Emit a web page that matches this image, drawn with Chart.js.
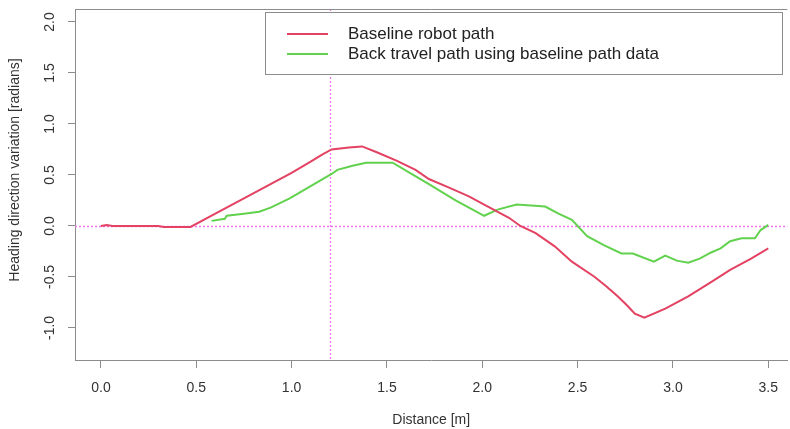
<!DOCTYPE html>
<html lang="en">
<head>
  <meta charset="UTF-8">
  <title>Heading direction variation</title>
  <script src="https://cdn.jsdelivr.net/npm/chart.js"></script>
  <style>
    html, body { margin: 0; padding: 0; background: #fff; overflow: hidden; }
  </style>
</head>
<body>
  <div style="width: 790px; height: 429px;">
    <canvas id="lineChart"></canvas>
  </div>

  <script>
    // values
    const baselineX = [0, 0.03, 0.06, 0.30, 0.33, 0.47, 0.60, 0.75, 0.87, 1.00, 1.10, 1.16, 1.21, 1.30, 1.37, 1.45, 1.55, 1.65, 1.72, 1.82, 1.93, 2.01, 2.14, 2.20, 2.28, 2.38, 2.47, 2.59, 2.65, 2.71, 2.76, 2.80, 2.85, 2.96, 3.08, 3.20, 3.30, 3.41, 3.50];
    const baselineY = [0.00, 0.01, 0.00, 0.00, -0.01, -0.01, 0.12, 0.27, 0.39, 0.52, 0.63, 0.70, 0.75, 0.77, 0.78, 0.72, 0.64, 0.55, 0.46, 0.38, 0.29, 0.21, 0.08, 0.00, -0.07, -0.20, -0.35, -0.50, -0.59, -0.69, -0.78, -0.86, -0.90, -0.81, -0.69, -0.55, -0.43, -0.32, -0.22];
    const backX = [0.58, 0.65, 0.66, 0.75, 0.83, 0.89, 0.99, 1.10, 1.21, 1.24, 1.32, 1.39, 1.53, 1.62, 1.72, 1.86, 2.01, 2.08, 2.18, 2.33, 2.40, 2.47, 2.55, 2.64, 2.73, 2.79, 2.90, 2.96, 3.02, 3.08, 3.14, 3.20, 3.25, 3.30, 3.36, 3.43, 3.46, 3.50];
    const backY = [0.05, 0.07, 0.10, 0.12, 0.14, 0.18, 0.27, 0.39, 0.51, 0.55, 0.59, 0.62, 0.62, 0.52, 0.41, 0.25, 0.10, 0.16, 0.21, 0.19, 0.12, 0.06, -0.10, -0.19, -0.27, -0.27, -0.35, -0.29, -0.34, -0.36, -0.32, -0.26, -0.22, -0.15, -0.12, -0.12, -0.04, 0.01];

    const xTicks = [0, 0.5, 1.0, 1.5, 2.0, 2.5, 3.0, 3.5];
    const yTicks = [-1.0, -0.5, 0.0, 0.5, 1.0, 1.5, 2.0];
    const markX = 1.2;
    const markY = 0;
    const yTitle = 'Heading direction variation [radians]';

    const toPoints = (xs, ys) => xs.map((x, i) => ({ x: x, y: ys[i] }));
    const FONT = 'Liberation Sans, Arial, sans-serif';

    // dotted guide lines, top border, rotated y labels and the boxed legend
    const extras = {
      id: 'extras',
      beforeDatasetsDraw(chart) {
        const { ctx, chartArea: a, scales } = chart;
        ctx.save();
        ctx.strokeStyle = '#ee77ee';
        ctx.lineWidth = 1.3;
        ctx.setLineDash([2, 2]);
        const px = Math.round(scales.x.getPixelForValue(markX)) + 0.5;
        const py = Math.round(scales.y.getPixelForValue(markY)) + 0.5;
        ctx.beginPath();
        ctx.moveTo(px, a.top);
        ctx.lineTo(px, a.bottom);
        ctx.moveTo(a.left, py);
        ctx.lineTo(a.right, py);
        ctx.stroke();
        ctx.restore();
      },
      afterDraw(chart) {
        const { ctx, chartArea: a, scales } = chart;
        ctx.save();
        // top edge of the box
        ctx.strokeStyle = '#8c8c8c';
        ctx.lineWidth = 1;
        ctx.beginPath();
        ctx.moveTo(a.left, a.top + 0.5);
        ctx.lineTo(a.right, a.top + 0.5);
        ctx.stroke();

        // y tick labels and title, turned like R draws them
        ctx.fillStyle = '#333';
        ctx.font = '14px ' + FONT;
        ctx.textAlign = 'center';
        ctx.textBaseline = 'middle';
        yTicks.forEach(v => {
          const y = scales.y.getPixelForValue(v);
          ctx.save();
          ctx.translate(50, y);
          ctx.rotate(-Math.PI / 2);
          ctx.fillText(v.toFixed(1), 0, 0);
          ctx.restore();
        });
        ctx.save();
        ctx.translate(15, 170);
        ctx.rotate(-Math.PI / 2);
        ctx.fillText(yTitle, 0, 0);
        ctx.restore();

        // legend
        const lx = 265, ly = 12, lw = 517, lh = 62;
        ctx.fillStyle = '#fff';
        ctx.fillRect(lx, ly, lw, lh);
        ctx.strokeStyle = '#8c8c8c';
        ctx.strokeRect(lx + 0.5, ly + 0.5, lw, lh);
        ctx.textAlign = 'left';
        ctx.font = '17px ' + FONT;
        chart.data.datasets.forEach((ds, i) => {
          const y = ly + 22 + i * 20;
          ctx.strokeStyle = ds.borderColor;
          ctx.lineWidth = 2;
          ctx.beginPath();
          ctx.moveTo(287, y);
          ctx.lineTo(328, y);
          ctx.stroke();
          ctx.fillStyle = '#222';
          ctx.fillText(ds.label, 348, y);
        });
        ctx.restore();
      }
    };

    const data = {
      datasets: [
        {
          label: 'Baseline robot path',
          data: toPoints(baselineX, baselineY),
          borderColor: 'rgb(228, 66, 98)',
          borderWidth: 2,
          pointRadius: 0,
          tension: 0
        },
        {
          label: 'Back travel path using baseline path data',
          data: toPoints(backX, backY),
          borderColor: 'rgb(98, 210, 78)',
          borderWidth: 2,
          pointRadius: 0,
          tension: 0
        }
      ]
    };

    const config = {
      type: 'line',
      data: data,
      options: {
        responsive: true,
        maintainAspectRatio: false,
        animation: false,
        layout: { padding: { top: 9, left: 0, right: 0, bottom: 0 } },
        plugins: {
          legend: { display: false },
          tooltip: { enabled: false }
        },
        scales: {
          x: {
            type: 'linear',
            min: -0.136,
            max: 3.6,
            afterBuildTicks: scale => { scale.ticks = xTicks.map(v => ({ value: v })); },
            afterFit: scale => { scale.height = 69; },
            grid: { drawOnChartArea: false, drawTicks: true, tickLength: 8, color: '#8c8c8c' },
            border: { display: true, color: '#8c8c8c', width: 1 },
            ticks: {
              color: '#333',
              padding: 12,
              maxRotation: 0,
              font: { family: FONT, size: 14 },
              callback: value => value.toFixed(1)
            },
            title: {
              display: true,
              text: 'Distance [m]',
              color: '#333',
              padding: { top: 0, bottom: 0 },
              font: { family: FONT, size: 14 }
            }
          },
          y: {
            type: 'linear',
            min: -1.314,
            max: 2.127,
            afterBuildTicks: scale => { scale.ticks = yTicks.map(v => ({ value: v })); },
            afterFit: scale => { scale.width = 75; },
            grid: { drawOnChartArea: false, drawTicks: true, tickLength: 7, color: '#8c8c8c' },
            border: { display: true, color: '#8c8c8c', width: 1 },
            ticks: { display: false }
          }
        }
      },
      plugins: [extras]
    };

    new Chart(document.getElementById('lineChart'), config);
  </script>
</body>
</html>
